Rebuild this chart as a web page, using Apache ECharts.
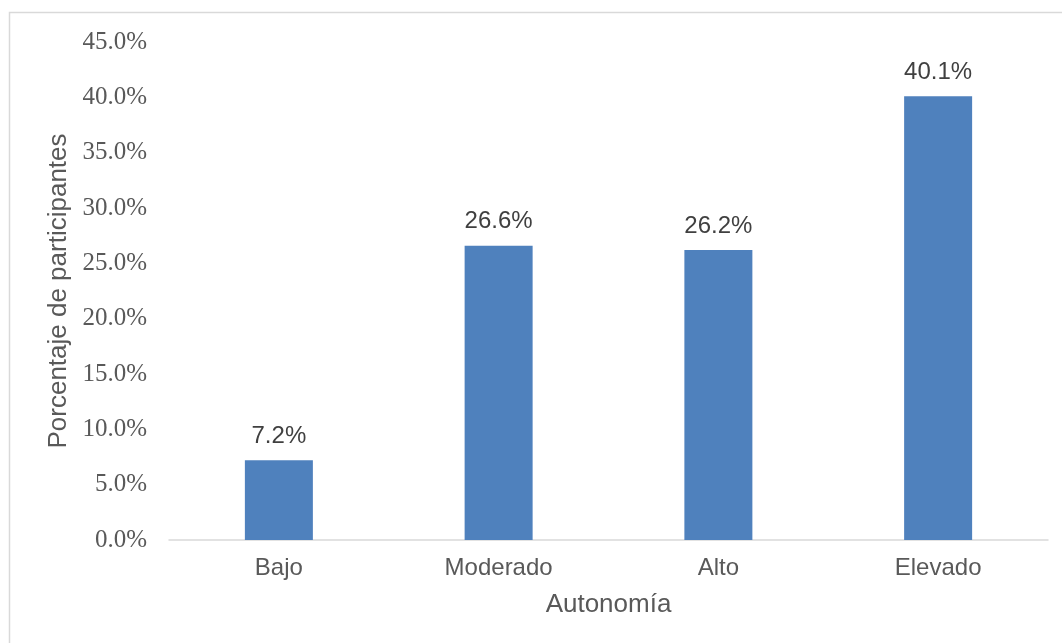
<!DOCTYPE html>
<html>
<head>
<meta charset="utf-8">
<script src="https://cdn.jsdelivr.net/npm/echarts@6/dist/echarts.min.js"></script>
<style>
html,body{margin:0;padding:0;background:#fff;}
#chart{width:1062px;height:643px;}
</style>
</head>
<body>
<div id="chart"></div>
<script>
const categories = ["Bajo", "Moderado", "Alto", "Elevado"];
const values = [7.2, 26.6, 26.2, 40.1];
const xAxisTitle = "Autonomía";
const yAxisTitle = "Porcentaje de participantes";

const chart = echarts.init(document.getElementById('chart'));
chart.setOption({
  animation: false,
  backgroundColor: '#fff',
  graphic: [{
    type: 'rect',
    shape: { x: 9.5, y: 12.5, width: 1100, height: 700 },
    style: { fill: 'none', stroke: '#D9D9D9', lineWidth: 1.5 },
    silent: true
  }],
  grid: { left: 169, right: 14, top: 42, bottom: 103 },
  xAxis: {
    type: 'category',
    data: categories,
    axisLine: { lineStyle: { color: '#D9D9D9', width: 1.5 } },
    axisTick: { show: false },
    axisLabel: { color: '#595959', fontFamily: 'Liberation Sans', fontSize: 24, margin: 16 },
    name: xAxisTitle,
    nameLocation: 'middle',
    nameGap: 52,
    nameTextStyle: { color: '#595959', fontFamily: 'Liberation Sans', fontSize: 26 }
  },
  yAxis: {
    type: 'value',
    min: 0, max: 45, interval: 5,
    splitLine: { show: false },
    axisLine: { show: false },
    axisTick: { show: false },
    axisLabel: {
      color: '#595959', fontFamily: 'Liberation Serif', fontSize: 25, margin: 22,
      formatter: v => v.toFixed(1) + '%'
    },
    name: yAxisTitle,
    nameLocation: 'middle',
    nameGap: 96,
    nameTextStyle: { color: '#595959', fontFamily: 'Liberation Sans', fontSize: 26 }
  },
  series: [{
    type: 'bar',
    data: values,
    barWidth: 68,
    itemStyle: { color: '#4F81BD' },
    label: {
      show: true, position: 'top', distance: 12,
      color: '#404040', fontFamily: 'Liberation Sans', fontSize: 24,
      formatter: p => p.value.toFixed(1) + '%'
    }
  }]
});
</script>
</body>
</html>
